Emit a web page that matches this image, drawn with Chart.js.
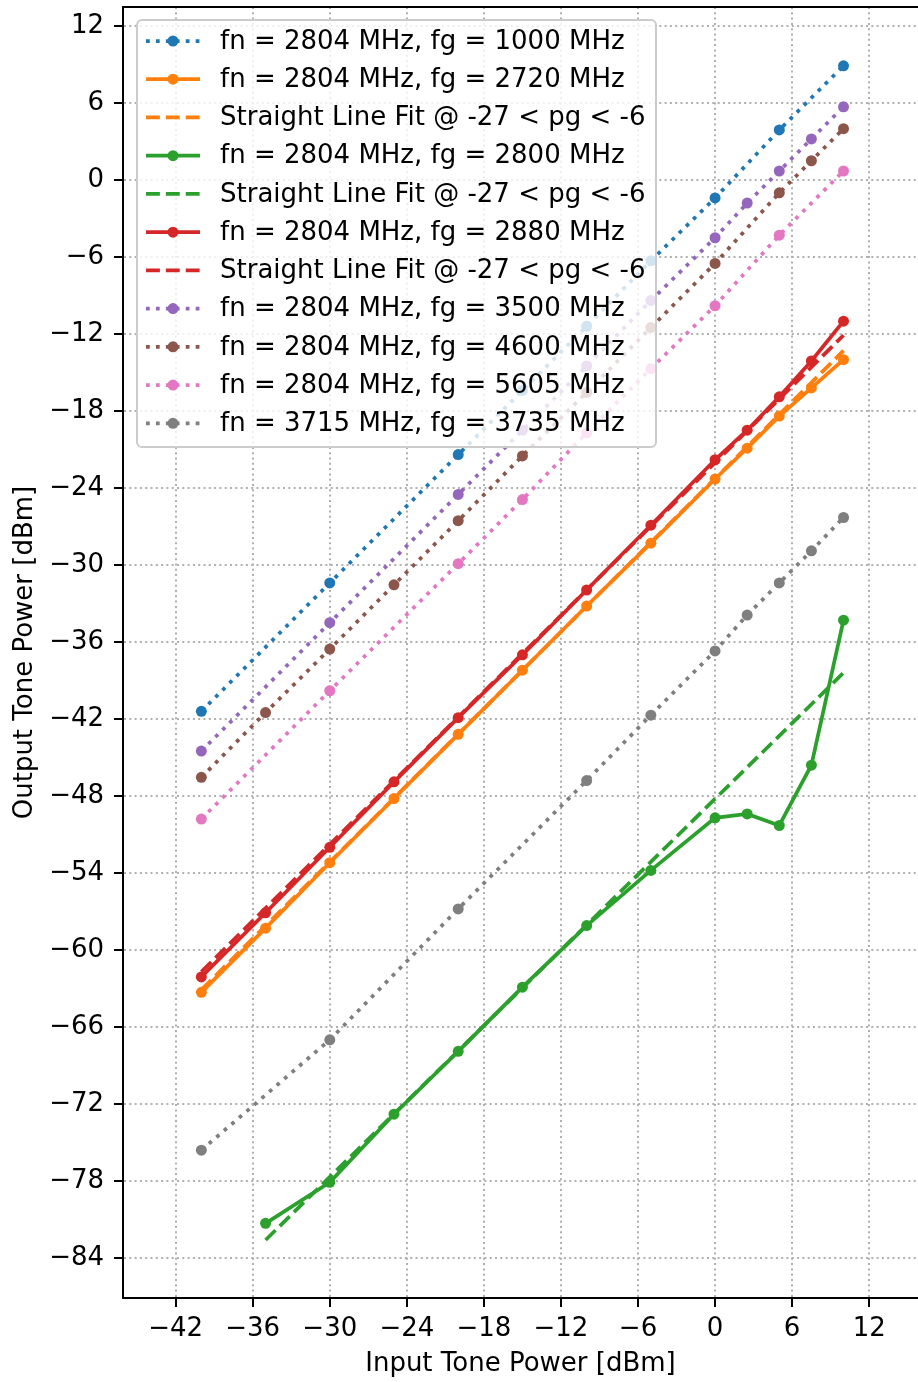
<!DOCTYPE html>
<html>
<head>
<meta charset="utf-8">
<script src="https://cdn.jsdelivr.net/npm/chart.js@4.4.0/dist/chart.umd.min.js"></script>
<style>
	body { margin: 0; background: #ffffff; }
	#chart { display: block; }
</style>
</head>
<body>
<canvas id="chart" width="918" height="1382"></canvas>
<script>
// input power [dBm] and output power [dBm] per measurement
var pin_1000  = [-40, -30, -20, -15, -10, -5, 0, 5, 10];
var pout_1000 = [-41.4, -31.4, -21.4, -16.4, -11.4, -6.3, -1.4, 3.9, 8.9];

var pin_2720  = [-40, -35, -30, -25, -20, -15, -10, -5, 0, 2.5, 5, 7.5, 10];
var pout_2720 = [-63.3, -58.3, -53.2, -48.2, -43.2, -38.2, -33.2, -28.3, -23.3, -20.9, -18.4, -16.2, -14.0];
var fit_x_2720 = [-40, 10];
var fit_y_2720 = [-63.1, -13.3];

var pin_2800  = [-35, -30, -25, -20, -15, -10, -5, 0, 2.5, 5, 7.5, 10];
var pout_2800 = [-81.3, -78.1, -72.8, -67.9, -62.9, -58.1, -53.8, -49.7, -49.4, -50.3, -45.6, -34.3];
var fit_x_2800 = [-35, 10];
var fit_y_2800 = [-82.6, -38.4];

var pin_2880  = [-40, -35, -30, -25, -20, -15, -10, -5, 0, 2.5, 5, 7.5, 10];
var pout_2880 = [-62.1, -57.1, -52.0, -46.9, -41.9, -37.0, -31.95, -26.9, -21.8, -19.5, -16.9, -14.1, -11.0];
var fit_x_2880 = [-40, 10];
var fit_y_2880 = [-61.7, -12.1];

var pin_3500  = [-40, -30, -20, -15, -10, -5, 0, 2.5, 5, 7.5, 10];
var pout_3500 = [-44.5, -34.5, -24.5, -19.5, -14.5, -9.4, -4.5, -1.8, 0.7, 3.2, 5.7];

var pin_4600  = [-40, -35, -30, -25, -20, -15, -10, -5, 0, 5, 7.5, 10];
var pout_4600 = [-46.55, -41.5, -36.55, -31.55, -26.55, -21.5, -16.55, -11.5, -6.5, -1.0, 1.5, 4.0];

var pin_5605  = [-40, -30, -20, -15, -10, -5, 0, 5, 10];
var pout_5605 = [-49.8, -39.8, -29.9, -24.9, -19.7, -14.7, -9.8, -4.3, 0.7];

var pin_3735  = [-40, -30, -20, -10, -5, 0, 2.5, 5, 7.5, 10];
var pout_3735 = [-75.6, -67.0, -56.8, -46.8, -41.7, -36.7, -33.9, -31.4, -28.9, -26.3];

var x_ticks = [-42, -36, -30, -24, -18, -12, -6, 0, 6, 12];
var y_ticks = [12, 6, 0, -6, -12, -18, -24, -30, -36, -42, -48, -54, -60, -66, -72, -78, -84];

var fit_label = 'Straight Line Fit @ -27 < pg < -6';

var FONT = 'DejaVu Sans';
var FS = 26;
var LW = 3.75;
var DOT = [LW, LW * 1.65];
var DASH = [LW * 3.7, LW * 1.6];

function pts(xs, ys) {
	var out = [];
	for (var i = 0; i < xs.length; i++) {
		out.push({x: xs[i], y: ys[i]});
	}
	return out;
}

function series(label, xs, ys, color, dash, marker) {
	return {
		label 				: label,
		data 				: pts(xs, ys),
		borderColor 		: color,
		backgroundColor 	: color,
		borderWidth 		: LW,
		borderDash 			: dash,
		borderCapStyle 		: 'butt',
		pointRadius 		: marker ? 5.5 : 0,
		pointBorderWidth 	: 0,
		pointBackgroundColor: color,
		showLine 			: true,
		fill 				: false
	};
}

var datasets = [
	series('fn = 2804 MHz, fg = 1000 MHz', pin_1000, pout_1000, '#1f77b4', DOT, true),
	series('fn = 2804 MHz, fg = 2720 MHz', pin_2720, pout_2720, '#ff7f0e', [], true),
	series(fit_label, fit_x_2720, fit_y_2720, '#ff7f0e', DASH, false),
	series('fn = 2804 MHz, fg = 2800 MHz', pin_2800, pout_2800, '#2ca02c', [], true),
	series(fit_label, fit_x_2800, fit_y_2800, '#2ca02c', DASH, false),
	series('fn = 2804 MHz, fg = 2880 MHz', pin_2880, pout_2880, '#d62728', [], true),
	series(fit_label, fit_x_2880, fit_y_2880, '#d62728', DASH, false),
	series('fn = 2804 MHz, fg = 3500 MHz', pin_3500, pout_3500, '#9467bd', DOT, true),
	series('fn = 2804 MHz, fg = 4600 MHz', pin_4600, pout_4600, '#8c564b', DOT, true),
	series('fn = 2804 MHz, fg = 5605 MHz', pin_5605, pout_5605, '#e377c2', DOT, true),
	series('fn = 3715 MHz, fg = 3735 MHz', pin_3735, pout_3735, '#7f7f7f', DOT, true)
];
// later series on top, like matplotlib
for (var d = 0; d < datasets.length; d++) {
	datasets[d].order = -d;
}

function minus(v) {
	return v < 0 ? '\u2212' + Math.abs(v) : '' + v;
}

function $each(arr, fn) {
	for (var i = 0; i < arr.length; i++) fn(i, arr[i]);
}

// top spine + legend box drawn over the plot
var frame = {
	id: 'frame',
	afterDraw: function(chart) {
		var ctx = chart.ctx;
		var a = chart.chartArea;
		ctx.save();
		ctx.strokeStyle = '#000000';
		ctx.lineWidth = 2;
		ctx.beginPath();
		ctx.moveTo(a.left - 1, a.top);
		ctx.lineTo(a.right, a.top);
		ctx.stroke();

		var bx = 137, by = 20, bw = 519, bh = 427;
		ctx.beginPath();
		ctx.roundRect(bx, by, bw, bh, 5);
		ctx.fillStyle = 'rgba(255,255,255,0.8)';
		ctx.fill();
		ctx.strokeStyle = '#cccccc';
		ctx.lineWidth = 2;
		ctx.stroke();

		ctx.font = FS + 'px "' + FONT + '"';
		ctx.textBaseline = 'middle';
		ctx.textAlign = 'left';
		$each(chart.data.datasets, function(i, ds) {
			var yy = 41 + i * 38.23;
			ctx.strokeStyle = ds.borderColor;
			ctx.lineWidth = ds.borderWidth;
			ctx.lineCap = 'butt';
			ctx.setLineDash(ds.borderDash);
			ctx.beginPath();
			ctx.moveTo(146, yy);
			ctx.lineTo(200, yy);
			ctx.stroke();
			ctx.setLineDash([]);
			if (ds.pointRadius > 0) {
				ctx.fillStyle = ds.borderColor;
				ctx.beginPath();
				ctx.arc(173, yy, ds.pointRadius, 0, Math.PI * 2);
				ctx.fill();
			}
			ctx.fillStyle = '#000000';
			ctx.fillText(ds.label, 220, yy + 1);
		});
		ctx.restore();
	}
};

var gridOpts = {
	color 		: '#b0b0b0',
	lineWidth 	: 2,
	drawTicks 	: true,
	tickLength 	: 9,
	tickColor 	: '#000000',
	tickWidth 	: 2
};
var borderOpts = {
	display : true,
	color 	: '#000000',
	width 	: 2,
	dash 	: [2, 3.3]
};

var myChart = new Chart(document.getElementById('chart').getContext('2d'), {
	type: 'scatter',
	data: { datasets: datasets },
	plugins: [frame],
	options: {
		responsive: false,
		animation: false,
		devicePixelRatio: 1,
		layout: { autoPadding: false, padding: { top: 7, left: 0, right: 0, bottom: 0 } },
		plugins: {
			legend: { display: false },
			tooltip: { enabled: false }
		},
		scales: {
			x: {
				type: 'linear',
				min: -46.1,
				max: 15.8,
				grid: gridOpts,
				border: borderOpts,
				afterBuildTicks: function(scale) {
					scale.ticks = x_ticks.map(function(v) { return {value: v}; });
				},
				afterFit: function(scale) {
					scale.height = 84;
					scale.paddingLeft = 0;
					scale.paddingRight = 0;
				},
				ticks: {
					autoSkip: false,
					maxRotation: 0,
					padding: 7,
					color: '#000000',
					font: { family: FONT, size: FS },
					callback: function(v) { return minus(v); }
				},
				title: {
					display: true,
					text: 'Input Tone Power [dBm]',
					color: '#000000',
					font: { family: FONT, size: FS },
					padding: { top: 0, bottom: 2 }
				}
			},
			y: {
				type: 'linear',
				min: -87.12,
				max: 13.48,
				grid: gridOpts,
				border: borderOpts,
				afterBuildTicks: function(scale) {
					scale.ticks = y_ticks.map(function(v) { return {value: v}; });
				},
				afterFit: function(scale) {
					scale.width = 123;
					scale.paddingTop = 0;
					scale.paddingBottom = 0;
				},
				ticks: {
					autoSkip: false,
					padding: 10,
					color: '#000000',
					font: { family: FONT, size: FS },
					callback: function(v) { return minus(v); }
				},
				title: {
					display: true,
					text: 'Output Tone Power [dBm]',
					color: '#000000',
					font: { family: FONT, size: FS },
					padding: { top: 10, bottom: 0 }
				}
			}
		}
	}
});
</script>
</body>
</html>
